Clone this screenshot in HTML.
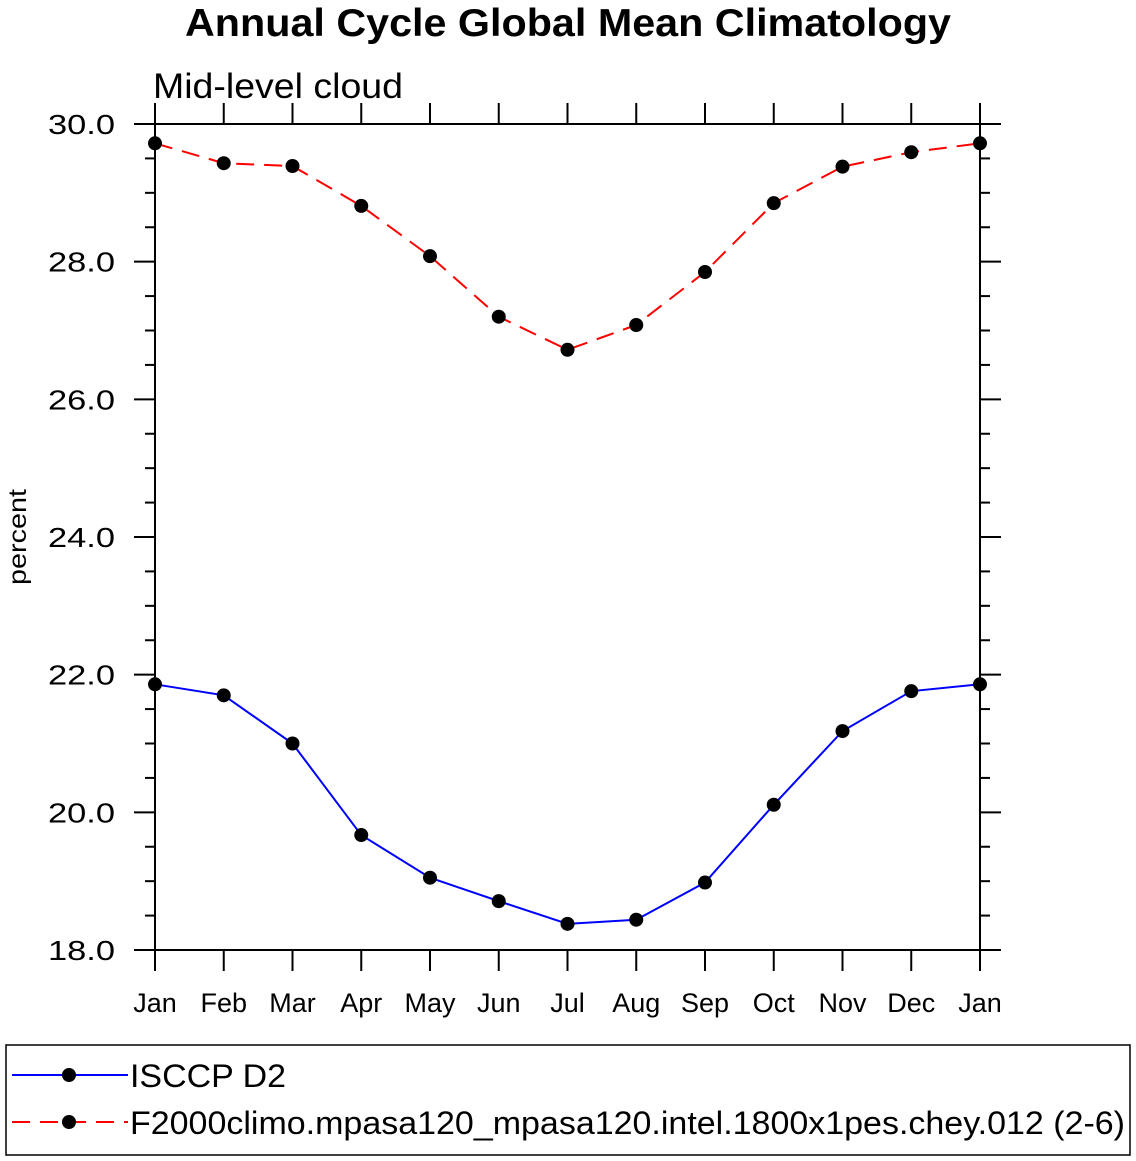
<!DOCTYPE html>
<html><head><meta charset="utf-8"><style>body{margin:0;background:#fff}svg{display:block;font-family:"Liberation Sans",sans-serif}</style></head>
<body>
<svg id="chart" width="1136" height="1161" xmlns="http://www.w3.org/2000/svg">
<text x="568" y="36" text-anchor="middle" font-size="39" font-weight="bold" textLength="766" lengthAdjust="spacingAndGlyphs">Annual Cycle Global Mean Climatology</text>
<text x="153" y="98" font-size="35" textLength="250" lengthAdjust="spacingAndGlyphs">Mid-level cloud</text>
<text transform="translate(26,537) rotate(-90)" text-anchor="middle" font-size="25" textLength="96" lengthAdjust="spacingAndGlyphs">percent</text>
<g id="axes"></g><g id="series"></g>
<g>
<rect x="6" y="1045" width="1124" height="110" fill="none" stroke="#000" stroke-width="1.5"/>
<line x1="12" y1="1075" x2="128" y2="1075" stroke="#00f" stroke-width="2"/>
<circle cx="69" cy="1075" r="7" fill="#000"/>
<text x="130" y="1087" font-size="32" textLength="156" lengthAdjust="spacingAndGlyphs">ISCCP D2</text>
<line x1="12" y1="1122" x2="128" y2="1122" stroke="#f00" stroke-width="2" stroke-dasharray="18,10"/>
<circle cx="69" cy="1122" r="7" fill="#000"/>
<text x="130" y="1134" font-size="32" textLength="995" lengthAdjust="spacingAndGlyphs">F2000climo.mpasa120_mpasa120.intel.1800x1pes.chey.012 (2-6)</text>
</g>
</svg>
<script>
const months=["Jan","Feb","Mar","Apr","May","Jun","Jul","Aug","Sep","Oct","Nov","Dec","Jan"];
const obsValues=[21.86,21.70,21.00,19.67,19.05,18.71,18.38,18.44,18.98,20.11,21.18,21.76,21.86];
const modelValues=[29.72,29.43,29.39,28.81,28.08,27.20,26.72,27.08,27.85,28.85,29.38,29.59,29.72];
const yTicks=[18,20,22,24,26,28,30];
const yTickLabels=["18.0","20.0","22.0","24.0","26.0","28.0","30.0"];
const NS="http://www.w3.org/2000/svg";
const L=155,R=980,T=124,B=950,yMin=18,yMax=30;
const xs=i=>L+i*(R-L)/(months.length-1);
const ys=v=>B-(v-yMin)/(yMax-yMin)*(B-T);
function mk(t,a,p){const e=document.createElementNS(NS,t);for(const k in a)e.setAttribute(k,a[k]);p.appendChild(e);return e;}
const ax=document.getElementById('axes');
const box=mk('rect',{x:L,y:T,width:R-L,height:B-T,fill:'none',stroke:'#000','stroke-width':2},ax);


for(let v=yMin;v<=yMax+1e-9;v+=0.5){
  const y=ys(v),maj=Math.abs(v-Math.round(v/2)*2)<1e-9;const len=maj?21:10;
  mk('line',{x1:L-len,y1:y,x2:L,y2:y,stroke:'#000','stroke-width':2},ax);
  mk('line',{x1:R,y1:y,x2:R+len,y2:y,stroke:'#000','stroke-width':2},ax);
}
yTicks.forEach((v,i)=>{const t=mk('text',{x:115,y:ys(v)+10,'text-anchor':'end','font-size':28,textLength:67,lengthAdjust:'spacingAndGlyphs'},ax);t.textContent=yTickLabels[i];

});
months.forEach((m,i)=>{const x=xs(i);
  mk('line',{x1:x,y1:T-21,x2:x,y2:T,stroke:'#000','stroke-width':2},ax);
  mk('line',{x1:x,y1:B,x2:x,y2:B+21,stroke:'#000','stroke-width':2},ax);
  const t=mk('text',{x:x,y:1012,'text-anchor':'middle','font-size':27},ax);t.textContent=m;
  
  });
const sg=document.getElementById('series');
function series(vals,color,dash,name){
  const pl=mk('polyline',{points:vals.map((v,i)=>xs(i)+','+ys(v)).join(' '),fill:'none',stroke:color,'stroke-width':2,'stroke-dasharray':dash},sg);
  
  
  vals.forEach((v,i)=>{const c=mk('circle',{cx:xs(i),cy:ys(v),r:7,fill:'#000'},sg);
    
    });
}
series(obsValues,'#00f','none','isccp');
series(modelValues,'#f00','18,10','model');
</script>
</body></html>
